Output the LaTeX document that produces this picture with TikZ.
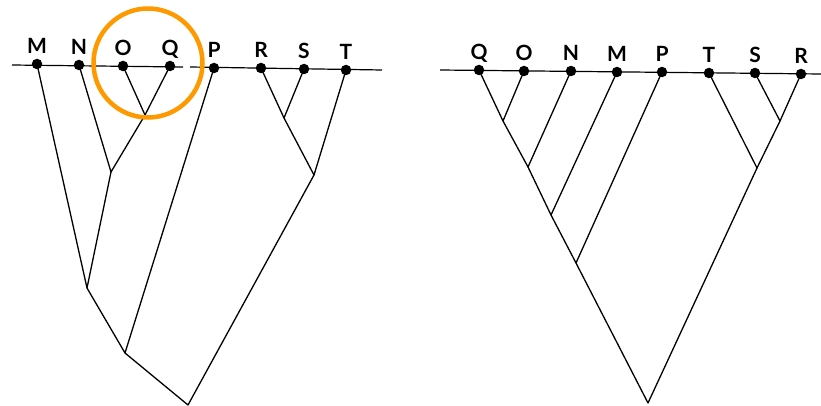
\documentclass[tikz,border=0pt]{standalone}
\usepackage{fontspec}
\setmainfont{Lato}
\begin{document}
\begin{tikzpicture}[x=1pt,y=-1pt,
  tip/.style={circle,fill=black,inner sep=0pt,minimum size=10.5pt},
  lbl/.style={font=\fontsize{21}{21}\selectfont\bfseries,inner sep=0pt,anchor=base},
  br/.style={line width=1.3pt,line join=round},
  base/.style={line width=1.2pt}]
\useasboundingbox (0,0) rectangle (821,406);
% ---------- left tree ----------
\coordinate (L1a) at (12,65);
\coordinate (L1b) at (183,67);
\coordinate (L2a) at (190,67);
\coordinate (L2b) at (382,70);
\draw[base] (L1a) -- (L1b);
\draw[base] (L2a) -- (L2b);
\node[tip] (lM) at (37,64) {};
\node[tip] (lN) at (79,65) {};
\node[tip] (lO) at (123,66) {};
\node[tip] (lQ) at (170,66) {};
\node[tip] (lP) at (214,68) {};
\node[tip] (lR) at (261,68) {};
\node[tip] (lS) at (304,69) {};
\node[tip] (lT) at (346,70) {};
\foreach \n/\t in {lM/M,lN/N,lO/O,lQ/Q,lP/P,lR/R,lS/S,lT/T}
  \node[lbl] (\n t) at ([yshift=10pt]\n.center) {\t};
\coordinate (lOQ) at (145,115);
\coordinate (lNOQ) at (111,172);
\coordinate (lRS) at (284,118);
\coordinate (lRST) at (314,175);
\coordinate (lMN) at (87,288);
\coordinate (lPJ) at (125,353);
\coordinate (lRoot) at (188,405);
\draw[br] (lO.center) -- (lOQ) -- (lQ.center);
\draw[br] (lN.center) -- (lNOQ) -- (lOQ);
\draw[br] (lR.center) -- (lRS) -- (lS.center);
\draw[br] (lRS) -- (lRST) -- (lT.center);
\draw[br] (lM.center) -- (lMN) -- (lNOQ);
\draw[br] (lMN) -- (lPJ) -- (lP.center);
\draw[br] (lPJ) -- (lRoot) -- (lRST);
\node[draw={rgb,255:red,255;green,153;blue,0},line width=4.5pt,circle,minimum size=109pt,inner sep=0pt] (ring) at (148,63) {};
% ---------- right tree ----------
\coordinate (RLa) at (440,70);
\coordinate (RLb) at (821,74);
\draw[base] (RLa) -- (RLb);
\node[tip] (rQ) at (479,70) {};
\node[tip] (rO) at (524,71) {};
\node[tip] (rN) at (571,71) {};
\node[tip] (rM) at (617,72) {};
\node[tip] (rP) at (662,72) {};
\node[tip] (rT) at (709,73) {};
\node[tip] (rS) at (755,73) {};
\node[tip] (rR) at (801,74) {};
\foreach \n/\t in {rQ/Q,rO/O,rN/N,rM/M,rP/P,rT/T,rS/S,rR/R}
  \node[lbl] (\n t) at ([yshift=10pt]\n.center) {\t};
\coordinate (rQO) at (503,121);
\coordinate (rNJ) at (528,167);
\coordinate (rMJ) at (551,215);
\coordinate (rPJ) at (576,263);
\coordinate (rRoot) at (648,403);
\coordinate (rSR) at (780,121);
\coordinate (rTSR) at (757,168);
\draw[br] (rQ.center) -- (rQO) -- (rO.center);
\draw[br] (rQO) -- (rNJ) -- (rN.center);
\draw[br] (rNJ) -- (rMJ) -- (rM.center);
\draw[br] (rMJ) -- (rPJ) -- (rP.center);
\draw[br] (rPJ) -- (rRoot) -- (rTSR);
\draw[br] (rS.center) -- (rSR) -- (rR.center);
\draw[br] (rT.center) -- (rTSR) -- (rSR);
\end{tikzpicture}
\end{document}
